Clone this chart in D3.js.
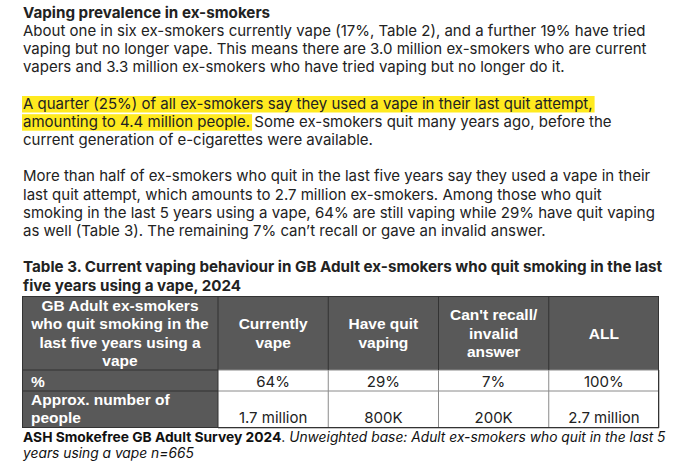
<!DOCTYPE html>
<html><head><meta charset="utf-8">
<script src="https://cdn.jsdelivr.net/npm/d3@7"></script>
<style>
html,body{margin:0;padding:0;background:#fff;}
svg{display:block;}
</style></head>
<body>
<svg id="c" width="680" height="467"></svg>
<script>
// ---- data ----
const sectionTitle = "Vaping prevalence in ex-smokers";
const para1 = [
  "About one in six ex-smokers currently vape (17%, Table 2), and a further 19% have tried",
  "vaping but no longer vape. This means there are 3.0 million ex-smokers who are current",
  "vapers and 3.3 million ex-smokers who have tried vaping but no longer do it."
];
const para2Highlight = [
  "A quarter (25%) of all ex-smokers say they used a vape in their last quit attempt,",
  "amounting to 4.4 million people."
];
const para2Rest = [
  "",
  " Some ex-smokers quit many years ago, before the",
  "current generation of e-cigarettes were available."
];
const para3 = [
  "More than half of ex-smokers who quit in the last five years say they used a vape in their",
  "last quit attempt, which amounts to 2.7 million ex-smokers. Among those who quit",
  "smoking in the last 5 years using a vape, 64% are still vaping while 29% have quit vaping",
  "as well (Table 3). The remaining 7% can\u2019t recall or gave an invalid answer."
];
const tableTitle = [
  "Table 3. Current vaping behaviour in GB Adult ex-smokers who quit smoking in the last",
  "five years using a vape, 2024"
];
const cornerLabel = ["GB Adult ex-smokers", "who quit smoking in the", "last five years using a", "vape"];
const categories = ["Currently vape", "Have quit vaping", "Can't recall/ invalid answer", "ALL"];
const categoryLines = [["Currently", "vape"], ["Have quit", "vaping"], ["Can't recall/", "invalid", "answer"], ["ALL"]];
const rowLabels = [["%"], ["Approx. number of", "people"]];
const percentValues = [64, 29, 7, 100];
const peopleValues = ["1.7 million", "800K", "200K", "2.7 million"];
const sourceBold = "ASH Smokefree GB Adult Survey 2024";
const sourceItalic = ["Unweighted base: Adult ex-smokers who quit in the last 5", "years using a vape n=665"];

// ---- drawing ----
const svg = d3.select("#c");
const bodyFont = "Inter, 'Noto Sans', sans-serif";
const tableFont = "'Liberation Sans', Arial, sans-serif";
const ink = "#222";
const fs = 15;
const left = 23;
const lineY = d3.scaleLinear().domain([0, 1]).range([17.5, 35.7]);

function textLine(i, str, opts = {}) {
  return svg.append("text")
    .attr("x", left).attr("y", lineY(i))
    .attr("font-family", bodyFont).attr("font-size", opts.size || fs)
    .attr("font-weight", opts.weight || 400)
    .attr("fill", ink).text(str);
}

textLine(0, sectionTitle, {weight: 700, size: 15.2});
para1.forEach((s, i) => textLine(1 + i, s));

// highlighted paragraph
const hlLayer = svg.append("g");
[0, 1, 2].forEach(i => {
  const t = svg.append("text").attr("x", left).attr("y", lineY(5 + i))
    .attr("font-family", bodyFont).attr("font-size", fs).attr("fill", ink);
  let hlSpan = null;
  if (para2Highlight[i]) hlSpan = t.append("tspan").text(para2Highlight[i]);
  if (para2Rest[i]) t.append("tspan").text(para2Rest[i]);
  if (hlSpan) {
    const w = hlSpan.node().getComputedTextLength();
    hlLayer.append("rect").attr("x", left - 1).attr("y", lineY(5 + i) - 12.5)
      .attr("width", w + 3).attr("height", 16.5).attr("fill", "#ffea1f");
  }
});

para3.forEach((s, i) => textLine(9 + i, s));
tableTitle.forEach((s, i) => textLine(14 + i, s, {weight: 700, size: 15.2}));

// table
const tLeft = 22, firstColRight = 218, tRight = 659;
const x = d3.scaleBand().domain(categories).range([firstColRight, tRight]);
const rowTops = [296, 370, 391, 428];
const headBg = "#595959";
const g = svg.append("g");

// header background
g.append("rect").attr("x", tLeft).attr("y", rowTops[0]).attr("width", tRight - tLeft)
  .attr("height", rowTops[1] - rowTops[0]).attr("fill", headBg);
// row label cells
rowLabels.forEach((lab, r) => {
  g.append("rect").attr("x", tLeft).attr("y", rowTops[r + 1]).attr("width", firstColRight - tLeft)
    .attr("height", rowTops[r + 2] - rowTops[r + 1]).attr("fill", headBg);
});

// grid lines in white cells
const gridCol = "#8a8a8a";
rowTops.slice(1).forEach(yv => {
  g.append("line").attr("x1", firstColRight).attr("x2", tRight).attr("y1", yv).attr("y2", yv)
    .attr("stroke", gridCol).attr("stroke-width", 1);
});
categories.forEach(c => {
  g.append("line").attr("x1", x(c) + x.bandwidth()).attr("x2", x(c) + x.bandwidth())
    .attr("y1", rowTops[1]).attr("y2", rowTops[3]).attr("stroke", gridCol);
});
// dark dividers
const dark = "#333";
[firstColRight, ...categories.slice(0, -1).map(c => x(c) + x.bandwidth())].forEach(xv => {
  g.append("line").attr("x1", xv).attr("x2", xv).attr("y1", rowTops[0]).attr("y2", rowTops[1])
    .attr("stroke", dark).attr("stroke-width", 1);
});
g.append("line").attr("x1", firstColRight).attr("x2", firstColRight).attr("y1", rowTops[1]).attr("y2", rowTops[3]).attr("stroke", dark);
[rowTops[1], rowTops[2]].forEach(yv => {
  g.append("line").attr("x1", tLeft).attr("x2", firstColRight).attr("y1", yv).attr("y2", yv).attr("stroke", dark);
});
g.append("rect").attr("x", tLeft + 0.5).attr("y", rowTops[0] + 0.5).attr("width", tRight - tLeft - 1)
  .attr("height", rowTops[3] - rowTops[0] - 1).attr("fill", "none").attr("stroke", dark).attr("stroke-width", 1);

// header text (clipped to header)
svg.append("defs").append("clipPath").attr("id", "hclip").append("rect")
  .attr("x", tLeft).attr("y", rowTops[0]).attr("width", tRight - tLeft).attr("height", rowTops[1] - rowTops[0]);
const ht = g.append("g").attr("clip-path", "url(#hclip)");
const hLH = 18.3;
const hMid = (rowTops[0] + rowTops[1]) / 2;
function headerBlock(lines, cx, baseFirst) {
  lines.forEach((s, i) => {
    ht.append("text").attr("x", cx).attr("y", baseFirst + i * hLH).attr("text-anchor", "middle")
      .attr("font-family", tableFont).attr("font-weight", 700).attr("font-size", 15.5)
      .attr("fill", "#fff").text(s);
  });
}
headerBlock(cornerLabel, (tLeft + firstColRight) / 2, 311);
categories.forEach((c, j) => {
  const lines = categoryLines[j];
  const first = hMid + 5.5 - (lines.length - 1) * hLH / 2;
  headerBlock(lines, x(c) + x.bandwidth() / 2, first);
});

// row labels
g.append("text").attr("x", 31).attr("y", 386.5).attr("font-family", tableFont).attr("font-weight", 700)
  .attr("font-size", 15.5).attr("fill", "#fff").text(rowLabels[0][0]);
rowLabels[1].forEach((s, i) => {
  g.append("text").attr("x", 31).attr("y", 405 + i * 18.3).attr("font-family", tableFont).attr("font-weight", 700)
    .attr("font-size", 15.5).attr("fill", "#fff").text(s);
});

// values
categories.forEach((c, j) => {
  const cx = x(c) + x.bandwidth() / 2;
  g.append("text").attr("x", cx).attr("y", 386.5).attr("text-anchor", "middle")
    .attr("font-family", bodyFont).attr("font-size", fs).attr("fill", ink).text(percentValues[j] + "%");
  g.append("text").attr("x", cx).attr("y", 423.3).attr("text-anchor", "middle")
    .attr("font-family", bodyFont).attr("font-size", fs).attr("fill", ink).text(peopleValues[j]);
});

// source note
const cfs = 13.8;
const s1 = svg.append("text").attr("x", left).attr("y", 442).attr("font-family", bodyFont)
  .attr("font-size", cfs).attr("fill", "#111");
s1.append("tspan").attr("font-weight", 700).text(sourceBold);
s1.append("tspan").text(". ");
s1.append("tspan").attr("font-style", "italic").text(sourceItalic[0]);
svg.append("text").attr("x", left).attr("y", 457.5).attr("font-family", bodyFont)
  .attr("font-size", cfs).attr("font-style", "italic").attr("fill", "#111").text(sourceItalic[1]);
</script>
</body></html>
